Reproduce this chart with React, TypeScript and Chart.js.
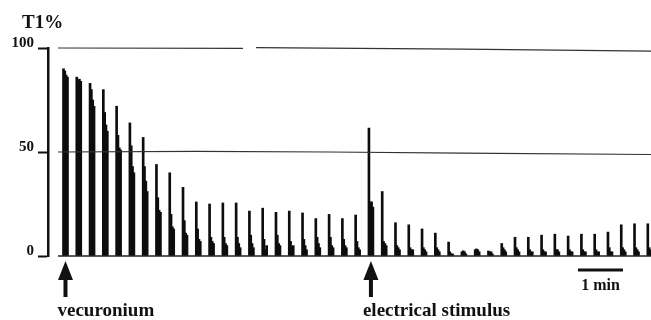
import React, { useEffect, useRef } from "react";
import { Chart, registerables } from "chart.js";

Chart.register(...registerables);

// Train-of-four responses (% of control), one entry per train
const T1 = [90, 86, 83, 80, 72, 64, 57, 44, 40, 33, 26, 25, 25.5, 25.5, 21.6, 23, 21, 21.6, 20.7, 18, 20, 18, 19.7, 61.5, 31, 16, 15, 13, 11, 6.7, 2, 3, 2.4, 6, 9, 9, 10, 10.5, 9.6, 10.5, 10.5, 11.5, 15, 15.5, 15.5];
const T2 = [89, 84, 80, 69, 58, 53, 43, 28, 20, 17, 13, 9, 9, 9, 10, 8, 10, 7, 8, 9, 9, 8, 7, 26, 7, 5, 4, 4, 4, 2, 2.5, 3.4, 2, 4, 4, 3, 3, 3, 3, 3, 3, 4, 4, 4, 4];
const T3 = [87, 85, 75, 63, 52, 43, 36, 22, 14, 11, 8, 7, 6, 6, 6, 3, 6, 4, 5, 6, 5, 5, 4, 26, 6, 4, 3, 3, 3, 1, 2, 3, 2, 3, 3, 2, 2, 3, 2, 2, 2, 2, 3, 3, 3];
const T4 = [86, 84, 72, 60, 51, 40, 31, 21, 13, 10, 7, 6, 5, 4, 4, 5, 5, 5, 3, 4, 4, 4, 3, 23.5, 5, 3, 3, 2, 2, 1, 1, 2, 1, 2, 2, 2, 2, 2, 2, 2, 2, 2, 2, 2, 2];

// Recorded calibration traces (train units, %)
const REF100_X = [-0.41, 13.52, 13.53, 14.5, 30, 44.24];
const REF100_Y = [100, 99.8, null, 100.2, 99.5, 98.5];
const REF50_X = [-0.41, 10, 20, 30, 44.24];
const REF50_Y = [50, 50.3, 50, 49.5, 48.8];
const BASE_X = [-0.41, 44.24];
const BASE_Y = [0, 0];

const Y_TICKS = [0, 50, 100];
const Y_TITLE = "T1%";
const ARROW_TRAINS = [0, 23];
const ARROW_LABELS = ["vecuronium", "electrical stimulus"];
const SCALE_BAR = [38.74, 42.13];
const SCALE_LABEL = "1 min";

const TWITCH_STEP = 0.1;
const SERIF = "'Liberation Serif', 'Times New Roman', serif";

const annotations = {
  id: "annotations",
  afterDraw(chart: any) {
    const { ctx, chartArea } = chart;
    const xs = chart.scales.x;
    const b = chartArea.bottom;
    ctx.save();
    ctx.fillStyle = "#111";
    ctx.strokeStyle = "#111";
    ctx.font = `bold 19px ${SERIF}`;
    ctx.textAlign = "left";
    ctx.textBaseline = "alphabetic";
    ctx.fillText(Y_TITLE, 22, chartArea.top - 20);
    ARROW_TRAINS.forEach((t, i) => {
      const cx = xs.getPixelForValue(t + 0.15);
      ctx.beginPath();
      ctx.moveTo(cx, b + 5);
      ctx.lineTo(cx + 7.5, b + 24);
      ctx.lineTo(cx - 7.5, b + 24);
      ctx.closePath();
      ctx.fill();
      ctx.fillRect(cx - 2, b + 23, 4, 18);
      ctx.font = `bold 19px ${SERIF}`;
      ctx.textAlign = "left";
      ctx.fillText(ARROW_LABELS[i], cx - 8, b + 60);
    });
    const x0 = xs.getPixelForValue(SCALE_BAR[0]);
    const x1 = xs.getPixelForValue(SCALE_BAR[1]);
    ctx.fillRect(x0, b + 12.5, x1 - x0, 3);
    ctx.font = `bold 16px ${SERIF}`;
    ctx.textAlign = "center";
    ctx.fillText(SCALE_LABEL, (x0 + x1) / 2, b + 34);
    ctx.restore();
  },
};

const pts = (xv: number[], yv: (number | null)[]) => xv.map((x, i) => ({ x, y: yv[i] }));

export default function App() {
  const ref = useRef<HTMLCanvasElement | null>(null);
  useEffect(() => {
    if (!ref.current) return;
    const twitch = (arr: number[], k: number) => arr.map((v, i) => ({ x: i + k * TWITCH_STEP, y: v }));
    const barDs = (arr: number[], k: number) => ({
      type: "bar",
      data: twitch(arr, k),
      backgroundColor: "#0d0d0d",
      borderWidth: 0,
      barThickness: 2,
      grouped: false,
      order: 1,
    });
    const lineDs = (data: any[], color: string, w: number) => ({
      type: "line",
      data,
      borderColor: color,
      borderWidth: w,
      pointRadius: 0,
      tension: 0,
      fill: false,
      spanGaps: false,
      clip: false,
      order: 0,
    });
    const chart = new Chart(ref.current, {
      type: "bar",
      data: {
        datasets: [
          barDs(T1, 0),
          barDs(T2, 1),
          barDs(T3, 2),
          barDs(T4, 3),
          lineDs(pts(REF100_X, REF100_Y), "#333", 1.2),
          lineDs(pts(REF50_X, REF50_Y), "#333", 1.2),
          lineDs(pts(BASE_X, BASE_Y), "#222", 1.4),
        ] as any,
      },
      options: {
        animation: false,
        responsive: false,
        maintainAspectRatio: false,
        layout: { padding: { left: 0, top: 48, right: 0, bottom: 64 } },
        plugins: {
          legend: { display: false },
          tooltip: { enabled: false },
          title: { display: false },
        },
        scales: {
          x: { type: "linear", min: -1.167, max: 44.24, offset: false, display: false },
          y: {
            type: "linear",
            min: 0,
            max: 100,
            afterFit: (s: any) => {
              s.width = 48;
            },
            afterBuildTicks: (s: any) => {
              s.ticks = Y_TICKS.map((v) => ({ value: v }));
            },
            ticks: {
              color: "#111",
              font: { family: SERIF, size: 15, weight: "bold" },
              padding: 4,
              labelOffset: -5,
            },
            grid: {
              drawOnChartArea: false,
              drawTicks: true,
              tickLength: 10,
              tickColor: "#111",
              tickWidth: 2,
            },
            border: { display: true, color: "#111", width: 2.5 },
          },
        },
      } as any,
      plugins: [annotations],
    });
    return () => chart.destroy();
  }, []);
  return (
    <div style={{ position: "absolute", left: 0, top: 0, width: 651, height: 320, background: "#fff" }}>
      <canvas ref={ref} width={651} height={320} />
    </div>
  );
}
